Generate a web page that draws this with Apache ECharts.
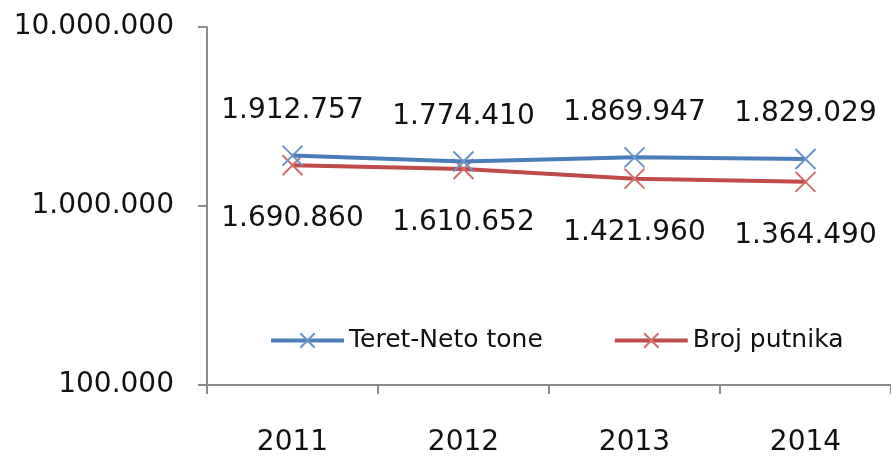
<!DOCTYPE html>
<html>
<head>
<meta charset="utf-8">
<script src="https://cdn.jsdelivr.net/npm/echarts@6/dist/echarts.min.js"></script>
<style>
  html, body { margin: 0; padding: 0; background: #fff; }
  #chart { width: 891px; height: 457px; }
</style>
</head>
<body>
<div id="chart"></div>
<script>
var years = ['2011', '2012', '2013', '2014'];
var teret = [1912757, 1774410, 1869947, 1829029];
var putnici = [1690860, 1610652, 1421960, 1364490];
var seriesNames = ['Teret-Neto tone', 'Broj putnika'];

var blue = '#4a7ebb';
var red = '#be4b48';
var font = 'DejaVu Sans';
var cross = 'path://M0,0L10,10M10,0L0,10';

function dots(v) {
	return String(Math.round(v)).replace(/\B(?=(\d{3})+(?!\d))/g, '.');
}

var chart = echarts.init(document.getElementById('chart'));

var options = {
	backgroundColor: '#fff',
	animation: false,
	textStyle: { fontFamily: font },
	grid: {
		left: 207,
		top: 27,
		bottom: 72,
		width: 690
	},
	legend: {
		left: 264,
		top: 323,
		itemWidth: 73,
		itemHeight: 18,
		itemGap: 70,
		lineStyle: { width: 4 },
		textStyle: { fontFamily: font, fontSize: 25, color: '#111' },
		data: seriesNames
	},
	xAxis: {
		type: 'category',
		data: years,
		axisLine: { lineStyle: { color: '#8c8c8c', width: 2 } },
		axisTick: { show: true, length: 9, lineStyle: { color: '#8c8c8c', width: 2 } },
		axisLabel: { fontFamily: font, fontSize: 28, color: '#111', margin: 44 }
	},
	yAxis: {
		type: 'log',
		logBase: 10,
		min: 100000,
		max: 10000000,
		axisLine: { show: true, lineStyle: { color: '#8c8c8c', width: 2 } },
		axisTick: { show: true, length: 9, lineStyle: { color: '#8c8c8c', width: 2 } },
		splitLine: { show: false },
		axisLabel: {
			fontFamily: font, fontSize: 28, color: '#111', margin: 33,
			formatter: dots
		}
	},
	series: [
		{
			name: seriesNames[0],
			type: 'line',
			data: teret,
			symbol: cross,
			symbolSize: 20,
			lineStyle: { color: blue, width: 4 },
			itemStyle: { color: '#6b95c8', borderColor: '#6b95c8', borderWidth: 2 },
			label: {
				show: true, position: 'top', distance: 20,
				fontFamily: font, fontSize: 28, color: '#111',
				formatter: function (p) { return dots(p.value); }
			},
			z: 3
		},
		{
			name: seriesNames[1],
			type: 'line',
			data: putnici,
			symbol: cross,
			symbolSize: 20,
			lineStyle: { color: red, width: 4 },
			itemStyle: { color: '#cf6f6c', borderColor: '#cf6f6c', borderWidth: 2 },
			label: {
				show: true, position: 'bottom', distance: 29,
				fontFamily: font, fontSize: 28, color: '#111',
				formatter: function (p) { return dots(p.value); }
			},
			z: 2
		}
	]
};

chart.setOption(options);
</script>
</body>
</html>
